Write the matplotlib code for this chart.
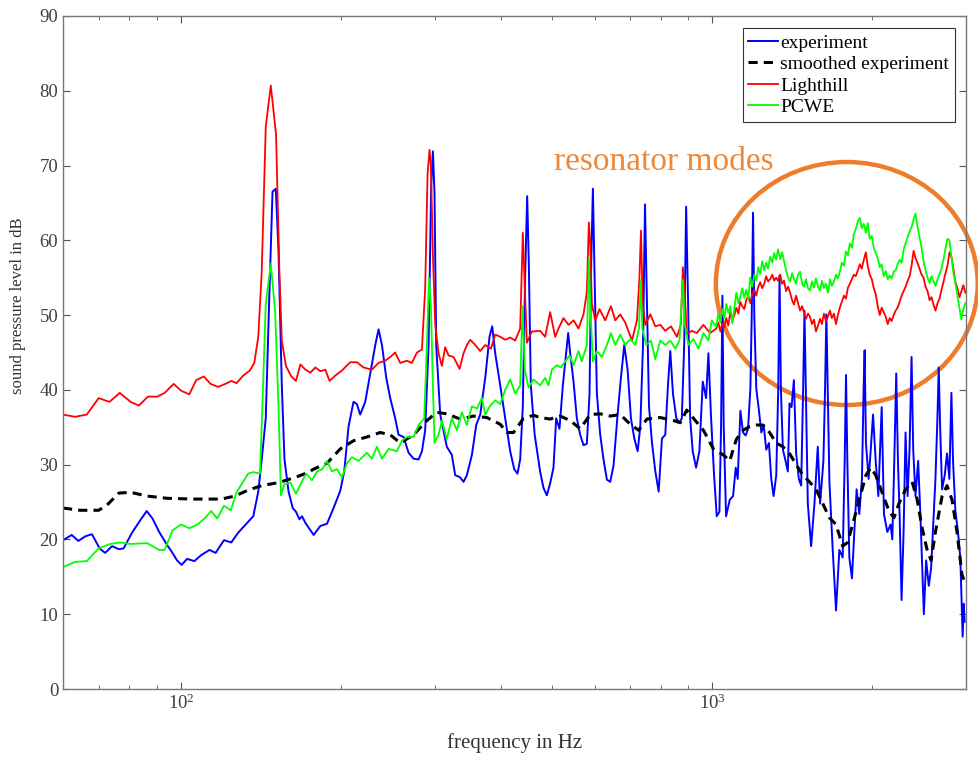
import numpy as np
import matplotlib
matplotlib.use('Agg')
import matplotlib.pyplot as plt
from matplotlib.patches import Ellipse

plt.rcParams['font.family'] = ['Liberation Serif', 'DejaVu Serif']
plt.rcParams['mathtext.fontset'] = 'stix'

# (frequency in Hz, level in dB)
experiment = [
    (60.0, 19.9), (62.3, 20.6), (64.1, 19.8), (66.0, 20.4), (68.0, 20.7), (70.3, 18.8), (72.0, 18.2),
    (74.2, 19.1), (76.4, 18.7), (78.0, 18.8), (80.9, 20.9), (83.9, 22.6), (86.2, 23.8), (88.4, 22.8),
    (91.0, 21.0), (94.1, 19.3), (96.4, 18.2), (98.3, 17.2), (100.3, 16.6), (102.7, 17.4), (106.0, 17.1),
    (109.1, 17.9), (113.2, 18.6), (116.2, 18.2), (120.5, 19.9), (124.4, 19.6), (128.1, 20.9), (132.8, 22.1),
    (136.8, 23.1), (139.8, 26.4), (141.9, 30.7), (144.4, 36.2), (146.5, 51.5), (148.7, 66.5), (150.8, 66.9),
    (152.6, 58.6), (154.8, 40.6), (156.6, 30.7), (159.4, 26.4), (162.3, 24.2), (164.6, 23.7), (167.1, 22.7),
    (169.0, 23.1), (171.5, 22.2), (177.7, 20.6), (182.9, 21.8), (188.3, 22.1), (193.7, 24.2), (199.4, 26.5),
    (202.9, 29.1), (206.7, 35.1), (211.2, 38.4), (214.3, 38.1), (217.4, 36.7), (222.2, 38.4), (227.1, 42.2),
    (232.1, 46.0), (235.4, 48.1), (238.9, 46.0), (243.4, 41.6), (247.6, 38.9), (253.0, 36.2), (256.7, 34.0),
    (262.4, 33.7), (268.1, 31.6), (274.0, 30.8), (280.0, 30.7), (284.1, 31.8), (288.1, 34.6), (292.4, 46.0),
    (295.7, 67.3), (297.9, 71.9), (300.0, 66.2), (302.2, 46.0), (307.5, 36.7), (316.4, 32.4), (323.4, 31.3),
    (328.1, 28.6), (335.3, 28.3), (340.2, 27.7), (345.2, 28.6), (352.7, 31.3), (359.4, 35.3), (365.7, 36.7),
    (373.7, 41.6), (380.7, 47.1), (385.2, 48.5), (390.2, 44.9), (398.8, 40.6), (407.5, 36.2), (416.4, 31.8),
    (423.7, 29.4), (429.8, 28.8), (434.8, 30.7), (439.8, 37.8), (444.3, 55.3), (448.2, 65.9), (451.4, 56.9),
    (455.3, 40.6), (463.0, 34.0), (474.0, 29.1), (481.0, 26.9), (488.0, 25.9), (495.1, 27.5), (502.3, 29.6),
    (508.2, 36.2), (515.5, 34.8), (523.1, 40.6), (530.7, 44.9), (535.3, 47.6), (540.0, 44.9), (547.9, 41.1),
    (555.8, 36.2), (563.9, 34.0), (572.1, 32.6), (580.4, 32.8), (587.2, 39.5), (591.5, 56.9), (595.8, 66.9),
    (600.1, 55.8), (606.2, 39.5), (615.0, 34.0), (623.9, 30.7), (633.1, 28.0), (642.3, 27.7), (651.6, 29.9),
    (663.1, 36.7), (672.7, 41.6), (682.6, 46.0), (692.5, 42.7), (702.6, 36.2), (712.9, 33.5), (723.3, 31.8),
    (731.7, 35.1), (740.3, 46.0), (746.7, 64.8), (753.1, 51.5), (759.8, 37.8), (769.7, 32.9), (780.9, 29.1),
    (792.3, 26.4), (803.6, 33.5), (815.3, 34.0), (824.8, 40.6), (833.2, 45.2), (842.9, 39.5), (855.3, 36.2),
    (867.0, 35.6), (875.9, 36.2), (884.9, 46.0), (892.4, 64.5), (900.1, 51.5), (908.0, 36.2), (918.2, 31.8),
    (931.8, 29.6), (945.1, 31.8), (959.0, 41.1), (972.9, 38.9), (982.9, 44.9), (994.3, 36.2), (1007.2, 28.6),
    (1019.0, 23.1), (1030.8, 23.7), (1038.2, 35.1), (1044.2, 52.6), (1050.2, 35.1), (1061.0, 23.1),
    (1078, 25.3), (1093.6, 25.8), (1106.3, 29.6), (1116.0, 28.1), (1128.9, 37.2), (1142.0, 34.3),
    (1155.0, 33.9), (1166.8, 34.8), (1178.7, 40.1), (1185.5, 49.6), (1192.4, 63.7), (1199.3, 49.6),
    (1209.6, 40.1), (1223.6, 37.2), (1236.0, 34.3), (1248.6, 35.3), (1262.8, 32.0), (1277.4, 32.9),
    (1290.4, 28.1), (1303.6, 25.8), (1318.7, 28.6), (1330.0, 40.1), (1337.7, 55.3), (1345.4, 40.1),
    (1357.2, 32.0), (1373.0, 30.5), (1386.6, 29.1), (1396.6, 38.2), (1408.9, 37.7), (1423.3, 41.3),
    (1437.4, 31.5), (1454.1, 28.1), (1468.9, 27.2), (1481.5, 40.1), (1490.1, 50.6), (1498.7, 40.1),
    (1511.9, 24.8), (1533.6, 19.1), (1556.0, 24.8), (1578.4, 32.4), (1594.5, 24.8), (1617.5, 30.5),
    (1629.1, 40.1), (1638.5, 50.1), (1648.0, 40.1), (1660.2, 27.7), (1684.2, 18.6), (1708.4, 10.5),
    (1733.4, 18.6), (1758.4, 17.6), (1773.8, 30.5), (1784.0, 42.0), (1794.3, 30.5), (1809.7, 17.6),
    (1830.6, 14.8), (1849.5, 21.0), (1868.0, 26.7), (1889.6, 23.4), (1911.6, 28.1), (1925.3, 40.1),
    (1933.8, 45.3), (1944.9, 32.9), (1967.6, 28.1), (1985.8, 32.0), (2005.6, 36.7), (2028.7, 30.5),
    (2052.2, 25.8), (2082.1, 37.7), (2102.8, 23.4), (2133.6, 21.0), (2164.3, 22.0), (2180.3, 20.0),
    (2198.9, 30.5), (2217.7, 42.2), (2234.1, 30.5), (2250.1, 23.4), (2269.4, 11.9), (2289.4, 21.0),
    (2309.0, 34.3), (2329.3, 25.8), (2349.2, 32.0), (2369.9, 44.4), (2386.9, 32.0), (2410.7, 25.8),
    (2438.6, 30.5), (2463.5, 22.9), (2499.5, 10.0), (2524.4, 17.2), (2553.6, 13.8), (2579.6, 16.2),
    (2609.5, 23.4), (2628.2, 28.1), (2650.7, 36.2), (2666.0, 43.0), (2681.4, 35.3), (2705.0, 26.7),
    (2736.3, 28.6), (2763.6, 31.5), (2791.7, 28.1), (2816.3, 39.6), (2836.5, 30.5), (2865.4, 23.8),
    (2897.9, 21.0), (2927.4, 17.5), (2957.3, 7.0), (2970.2, 11.4), (2982.6, 9.0),
]

smoothed = [
    (60.0, 24.2), (64.6, 23.9), (70.0, 23.9), (72.6, 24.6), (76.4, 26.2), (80.4, 26.3), (86.4, 25.8),
    (94.3, 25.5), (106.0, 25.4), (119.1, 25.4), (126.3, 25.8), (133.8, 26.6), (141.9, 27.2), (152.6, 27.6),
    (164.2, 28.3), (174.0, 29.0), (177.7, 29.4), (188.3, 30.2), (199.4, 32.1), (211.2, 33.2), (223.8, 33.7),
    (237.1, 34.3), (247.6, 34.0), (258.6, 32.9), (274.0, 34.0), (290.3, 35.9), (303.1, 37.0), (316.4, 36.8),
    (335.3, 36.1), (355.3, 36.5), (376.4, 36.3), (398.8, 35.4), (410.4, 34.3), (422.5, 34.3), (441.1, 36.2),
    (460.6, 36.6), (474.0, 36.3), (495.1, 36.1), (517.0, 36.5), (540.0, 35.9), (563.9, 34.8), (588.9, 36.7),
    (615.0, 36.8), (642.3, 36.5), (670.8, 36.7), (700.6, 35.4), (726.4, 34.6), (753.1, 36.1), (797.9, 36.3),
    (845.4, 35.9), (869.8, 35.6), (894.9, 37.3), (921.1, 36.2), (961.8, 34.6), (1004.4, 32.1), (1048.8, 31.3),
    (1078, 30.5), (1093.6, 32.0), (1109.6, 33.4), (1142.0, 34.6), (1175.2, 35.1), (1209.6, 35.3),
    (1244.9, 35.3), (1281.2, 34.3), (1318.7, 32.9), (1357.2, 32.4), (1396.6, 31.5), (1437.4, 30.0),
    (1479.5, 28.6), (1522.7, 27.7), (1567.2, 26.7), (1613.0, 24.8), (1660.2, 22.9), (1708.4, 22.0),
    (1758.4, 19.1), (1796.8, 19.6), (1835.9, 22.0), (1889.6, 25.3), (1944.9, 28.6), (1985.8, 29.6),
    (2028.7, 28.6), (2087.9, 26.2), (2148.9, 23.8), (2195.9, 22.9), (2243.4, 24.8), (2309.0, 26.7),
    (2376.4, 27.7), (2428.5, 25.3), (2481.2, 21.5), (2535.5, 18.6), (2579.6, 17.2), (2628.2, 21.0),
    (2705.0, 25.8), (2763.6, 27.2), (2824.1, 25.3), (2885.9, 21.0), (2948.4, 15.3), (2982.6, 14.3),
]

lighthill = [
    (60.0, 36.7), (63.2, 36.4), (66.5, 36.7), (70.0, 38.9), (73.4, 38.4), (76.7, 39.6), (80.4, 38.4),
    (83.3, 37.9), (86.7, 39.1), (90.3, 39.1), (93.2, 39.6), (96.9, 40.8), (100.0, 39.9), (103.7, 39.4),
    (106.8, 41.3), (110.4, 41.8), (113.7, 40.8), (117.4, 40.4), (121.2, 40.8), (124.4, 41.2), (127.2, 40.9),
    (130.9, 41.9), (134.8, 42.6), (137.4, 43.6), (139.8, 47.1), (141.9, 55.8), (144.4, 75.2), (147.6, 80.7),
    (151.0, 74.1), (153.2, 55.8), (154.8, 46.6), (157.6, 43.2), (161.3, 41.8), (164.6, 41.2), (167.8, 43.4),
    (171.5, 42.7), (175.2, 42.3), (179.0, 43.0), (182.9, 42.5), (186.9, 42.7), (190.4, 41.2), (195.1, 41.9),
    (200.9, 42.6), (208.2, 43.7), (214.3, 43.7), (220.6, 43.0), (228.7, 42.7), (235.4, 43.6), (242.3, 43.9),
    (247.6, 44.4), (253.0, 45.0), (258.6, 43.6), (266.2, 43.9), (272.0, 43.6), (278.0, 45.0), (284.1, 45.4),
    (288.1, 53.6), (291.1, 68.9), (293.6, 72.1), (295.3, 70.0), (297.9, 58.0), (300.9, 48.7), (305.3, 44.9),
    (309.7, 43.2), (314.2, 45.7), (318.8, 44.6), (325.8, 44.4), (334.4, 42.8), (340.2, 44.9), (345.2, 46.0),
    (350.2, 46.7), (357.9, 46.0), (365.7, 45.2), (373.7, 46.0), (383.0, 45.5), (390.2, 47.4), (398.8, 47.1),
    (407.5, 46.7), (416.4, 47.0), (425.5, 46.6), (434.8, 48.2), (439.8, 61.0), (443.7, 53.6), (447.5, 46.3),
    (457.3, 47.8), (474.0, 47.9), (484.5, 47.1), (495.1, 50.4), (506.0, 47.1), (513.3, 48.2), (524.5, 49.6),
    (536.1, 48.7), (547.9, 49.3), (559.8, 48.2), (572.1, 50.1), (580.4, 53.1), (585.5, 62.4), (588.9, 59.6),
    (593.2, 51.5), (601.8, 49.3), (613.3, 50.8), (628.5, 49.3), (644.2, 51.2), (656.4, 49.3), (670.8, 50.1),
    (685.5, 49.0), (705.7, 46.6), (721.2, 49.3), (728.6, 54.7), (733.8, 61.3), (739.2, 51.5), (747.7, 48.7),
    (764.1, 50.1), (780.9, 48.5), (797.9, 48.7), (815.3, 47.9), (835.6, 48.5), (857.7, 47.1), (872.2, 48.7),
    (879.8, 56.4), (886.1, 53.6), (894.9, 47.4), (914.3, 47.9), (934.4, 47.6), (961.8, 48.7), (990.0, 47.6),
]

pcwe = [
    (60.0, 16.3), (63.2, 17.0), (66.5, 17.1), (70.0, 18.8), (73.6, 19.4), (76.7, 19.6), (80.4, 19.4),
    (86.4, 19.5), (91.0, 18.6), (93.2, 18.6), (96.4, 21.2), (100.0, 22.0), (103.7, 21.5), (107.5, 22.0),
    (110.7, 22.8), (114.0, 23.8), (117.0, 22.8), (120.5, 24.5), (124.1, 23.9), (127.2, 26.3), (130.9, 27.7),
    (133.8, 28.8), (136.8, 29.0), (140.8, 28.8), (142.3, 37.8), (144.4, 51.5), (147.6, 56.9), (150.4, 50.4),
    (152.6, 37.8), (154.2, 25.9), (156.6, 27.4), (160.6, 27.6), (164.6, 26.1), (168.5, 27.6), (172.0, 28.8),
    (176.4, 27.9), (180.3, 29.1), (184.6, 29.4), (188.3, 30.5), (192.3, 29.1), (196.6, 29.4), (200.9, 28.3),
    (205.3, 30.2), (209.8, 31.0), (215.9, 30.5), (223.8, 31.6), (228.7, 30.8), (233.7, 32.4), (238.9, 30.8),
    (245.9, 32.1), (254.9, 31.8), (260.5, 33.2), (266.2, 33.7), (274.0, 33.7), (280.0, 35.3), (286.9, 36.2),
    (290.3, 46.0), (292.8, 55.0), (295.3, 51.5), (297.9, 40.6), (300.0, 32.9), (305.3, 34.0), (309.7, 35.9),
    (316.4, 33.4), (323.4, 36.2), (330.5, 34.6), (337.8, 37.0), (345.2, 35.3), (352.7, 37.8), (360.4, 37.5),
    (368.3, 38.9), (373.7, 36.7), (381.9, 37.9), (390.2, 38.6), (398.8, 38.1), (407.5, 40.0), (416.4, 41.4),
    (425.5, 39.5), (434.8, 40.6), (439.2, 51.2), (443.7, 42.7), (450.8, 40.3), (460.6, 41.4), (474.0, 40.6),
    (484.5, 41.6), (491.5, 40.6), (498.7, 42.7), (509.6, 43.3), (518.5, 43.0), (528.4, 43.8), (538.4, 44.6),
    (547.9, 43.3), (559.8, 45.2), (567.9, 43.8), (580.4, 46.0), (585.5, 57.5), (589.7, 50.4), (595.8, 43.8),
    (606.2, 45.2), (619.5, 44.4), (633.1, 46.0), (644.2, 47.6), (656.4, 46.0), (670.8, 47.4), (685.5, 46.0),
    (700.6, 46.8), (716.0, 46.0), (727.5, 48.2), (732.8, 54.7), (738.1, 48.2), (750.9, 46.0), (766.3, 46.6),
    (780.9, 44.1), (797.9, 46.6), (815.3, 46.0), (833.2, 46.6), (851.5, 45.5), (867.0, 46.6), (879.8, 54.7),
    (887.4, 48.7), (901.4, 46.0), (921.1, 46.8), (941.3, 45.5), (961.8, 47.6), (982.9, 46.6), (997.1, 49.3),
]

# resonator range, both simulations read at the same frequencies
hf_freq = [
    1017, 1026, 1035, 1044, 1053, 1062, 1071, 1081, 1090, 1100,
    1109, 1119, 1128, 1138, 1148, 1158, 1168, 1178, 1188, 1199,
    1209, 1220, 1230, 1241, 1252, 1262, 1273, 1284, 1296, 1307,
    1318, 1329, 1341, 1353, 1364, 1376, 1388, 1400, 1412, 1424,
    1437, 1449, 1462, 1475, 1487, 1500, 1513, 1526, 1540, 1553,
    1566, 1580, 1594, 1607, 1621, 1635, 1650, 1664, 1678, 1693,
    1708, 1722, 1737, 1752, 1768, 1783, 1798, 1814, 1830, 1845,
    1861, 1878, 1894, 1910, 1927, 1944, 1960, 1977, 1995, 2012,
    2029, 2047, 2065, 2082, 2100, 2119, 2137, 2156, 2174, 2193,
    2212, 2231, 2251, 2270, 2290, 2310, 2330, 2350, 2370, 2391,
    2411, 2432, 2453, 2475, 2496, 2518, 2540, 2562, 2584, 2606,
    2629, 2652, 2675, 2698, 2721, 2745, 2769, 2793, 2817, 2841,
    2866, 2891, 2916, 2941, 2966, 2992,
]
hf_lighthill = [
    48.2, 49.0, 47.8, 48.9, 48.3, 49.6, 48.6, 50.4, 49.2, 50.0,
    51.0, 50.2, 51.8, 51.2, 50.8, 52.0, 52.6, 51.6, 52.8, 53.4,
    52.6, 53.8, 54.4, 53.6, 54.2, 55.2, 54.5, 54.8, 55.4, 54.6,
    55.0, 54.6, 55.4, 54.2, 54.6, 53.2, 53.8, 53.0, 52.0, 51.4,
    52.6, 51.6, 50.6, 51.2, 50.4, 49.5, 50.2, 49.8, 48.8, 49.4,
    47.8, 48.6, 49.5, 48.8, 50.2, 49.2, 49.8, 50.6, 49.6, 50.2,
    48.8, 50.0, 51.0, 51.8, 52.6, 52.2, 53.6, 54.2, 54.8, 55.4,
    55.2, 56.0, 56.8, 56.2, 57.4, 58.4, 56.6, 55.4, 54.8, 53.6,
    52.8, 51.2, 50.0, 51.0, 50.4, 49.8, 48.8, 49.6, 49.2, 50.0,
    50.6, 51.0, 51.8, 52.6, 53.2, 53.8, 54.6, 55.2, 56.6, 58.6,
    57.6, 57.0, 56.2, 55.4, 55.0, 53.8, 53.2, 52.0, 52.4, 51.4,
    50.6, 51.6, 52.2, 53.4, 54.4, 55.6, 56.6, 58.4, 57.8, 56.2,
    54.4, 53.6, 52.4, 53.2, 54.0, 53.0,
]
hf_pcwe = [
    48.5, 50.2, 49.0, 50.8, 49.6, 51.5, 50.3, 51.2, 48.9, 51.0,
    53.0, 51.6, 52.4, 53.6, 52.3, 53.4, 52.2, 55.0, 53.8, 55.4,
    54.6, 56.4, 55.5, 57.2, 56.0, 57.0, 56.2, 57.8, 57.0, 58.3,
    57.4, 58.8, 57.5, 58.4, 57.2, 56.0, 55.0, 54.5, 55.6, 54.8,
    54.2, 55.4, 55.8, 54.2, 53.8, 54.8, 53.6, 53.3, 54.5, 53.7,
    54.9, 53.8, 53.3, 54.6, 53.6, 54.2, 53.0, 54.8, 53.9, 54.5,
    55.4, 54.9, 55.8, 57.0, 56.6, 58.5, 58.0, 59.6, 59.0, 60.8,
    61.5, 62.6, 63.0, 61.6, 62.2, 61.0, 62.3, 60.2, 60.6, 59.0,
    58.3, 57.6, 56.4, 56.8, 55.2, 55.9, 54.8, 55.3, 54.9, 55.8,
    56.0, 56.8, 57.4, 57.0, 58.8, 59.6, 60.4, 61.2, 61.8, 62.8,
    63.6, 61.8, 60.4, 59.0, 57.2, 56.0, 55.0, 54.3, 55.2, 54.5,
    53.9, 54.8, 55.5, 56.2, 57.4, 58.9, 60.2, 60.0, 57.8, 55.6,
    54.2, 52.6, 51.0, 49.4, 50.8, 51.6,
]

fig = plt.figure(figsize=(9.79, 7.61), dpi=100)
ax = fig.add_axes([0.0644, 0.0946, 0.9223, 0.8844])

f, db = np.array(experiment).T
ax.semilogx(f, db, color='#0000ff', lw=1.4, label='experiment')
f, db = np.array(smoothed).T
ax.semilogx(f, db, color='k', lw=2.2, ls=(0, (3, 2)), label='smoothed experiment')
f, db = np.array(lighthill).T
ax.semilogx(np.r_[f, hf_freq], np.r_[db, hf_lighthill], color='#ff0000', lw=1.3, label='Lighthill')
f, db = np.array(pcwe).T
ax.semilogx(np.r_[f, hf_freq], np.r_[db, hf_pcwe], color='#00ff00', lw=1.3, label='PCWE')

ax.set_xlim(60, 3000)
ax.set_ylim(0, 90)
ax.set_yticks(np.arange(0, 91, 10))
ax.set_xlabel('frequency in Hz', fontsize=15, color='#333333', labelpad=14)
ax.set_ylabel('sound pressure level in dB', fontsize=12, color='#333333')
ax.yaxis.set_label_coords(-0.041, 0.569)
ax.tick_params(which='both', direction='in', top=True, right=True, colors='#555555',
               labelcolor='#404040', labelsize=13.5)
ax.tick_params(which='major', length=5)
ax.tick_params(which='minor', length=3)
for s in ax.spines.values():
    s.set_color('#777777')
    s.set_linewidth(1.0)

leg = ax.legend(loc='upper right', bbox_to_anchor=(0.988, 0.982), fontsize=14, frameon=True,
                fancybox=False, edgecolor='#333333', framealpha=1, handlelength=1.5,
                handletextpad=0.15, labelspacing=0.2, borderpad=0.3, borderaxespad=0)
leg.get_frame().set_linewidth(0.8)

ax.text(0.6656, 0.783, 'resonator modes', transform=ax.transAxes, ha='center', va='center',
        color='#F0883A', fontsize=24)
ax.add_patch(Ellipse((0.868, 0.6025), 0.290, 0.361, transform=ax.transAxes, fill=False,
                     ec='#EE7D2B', lw=3.2, clip_on=False))

fig.savefig('out.png', dpi=100)
